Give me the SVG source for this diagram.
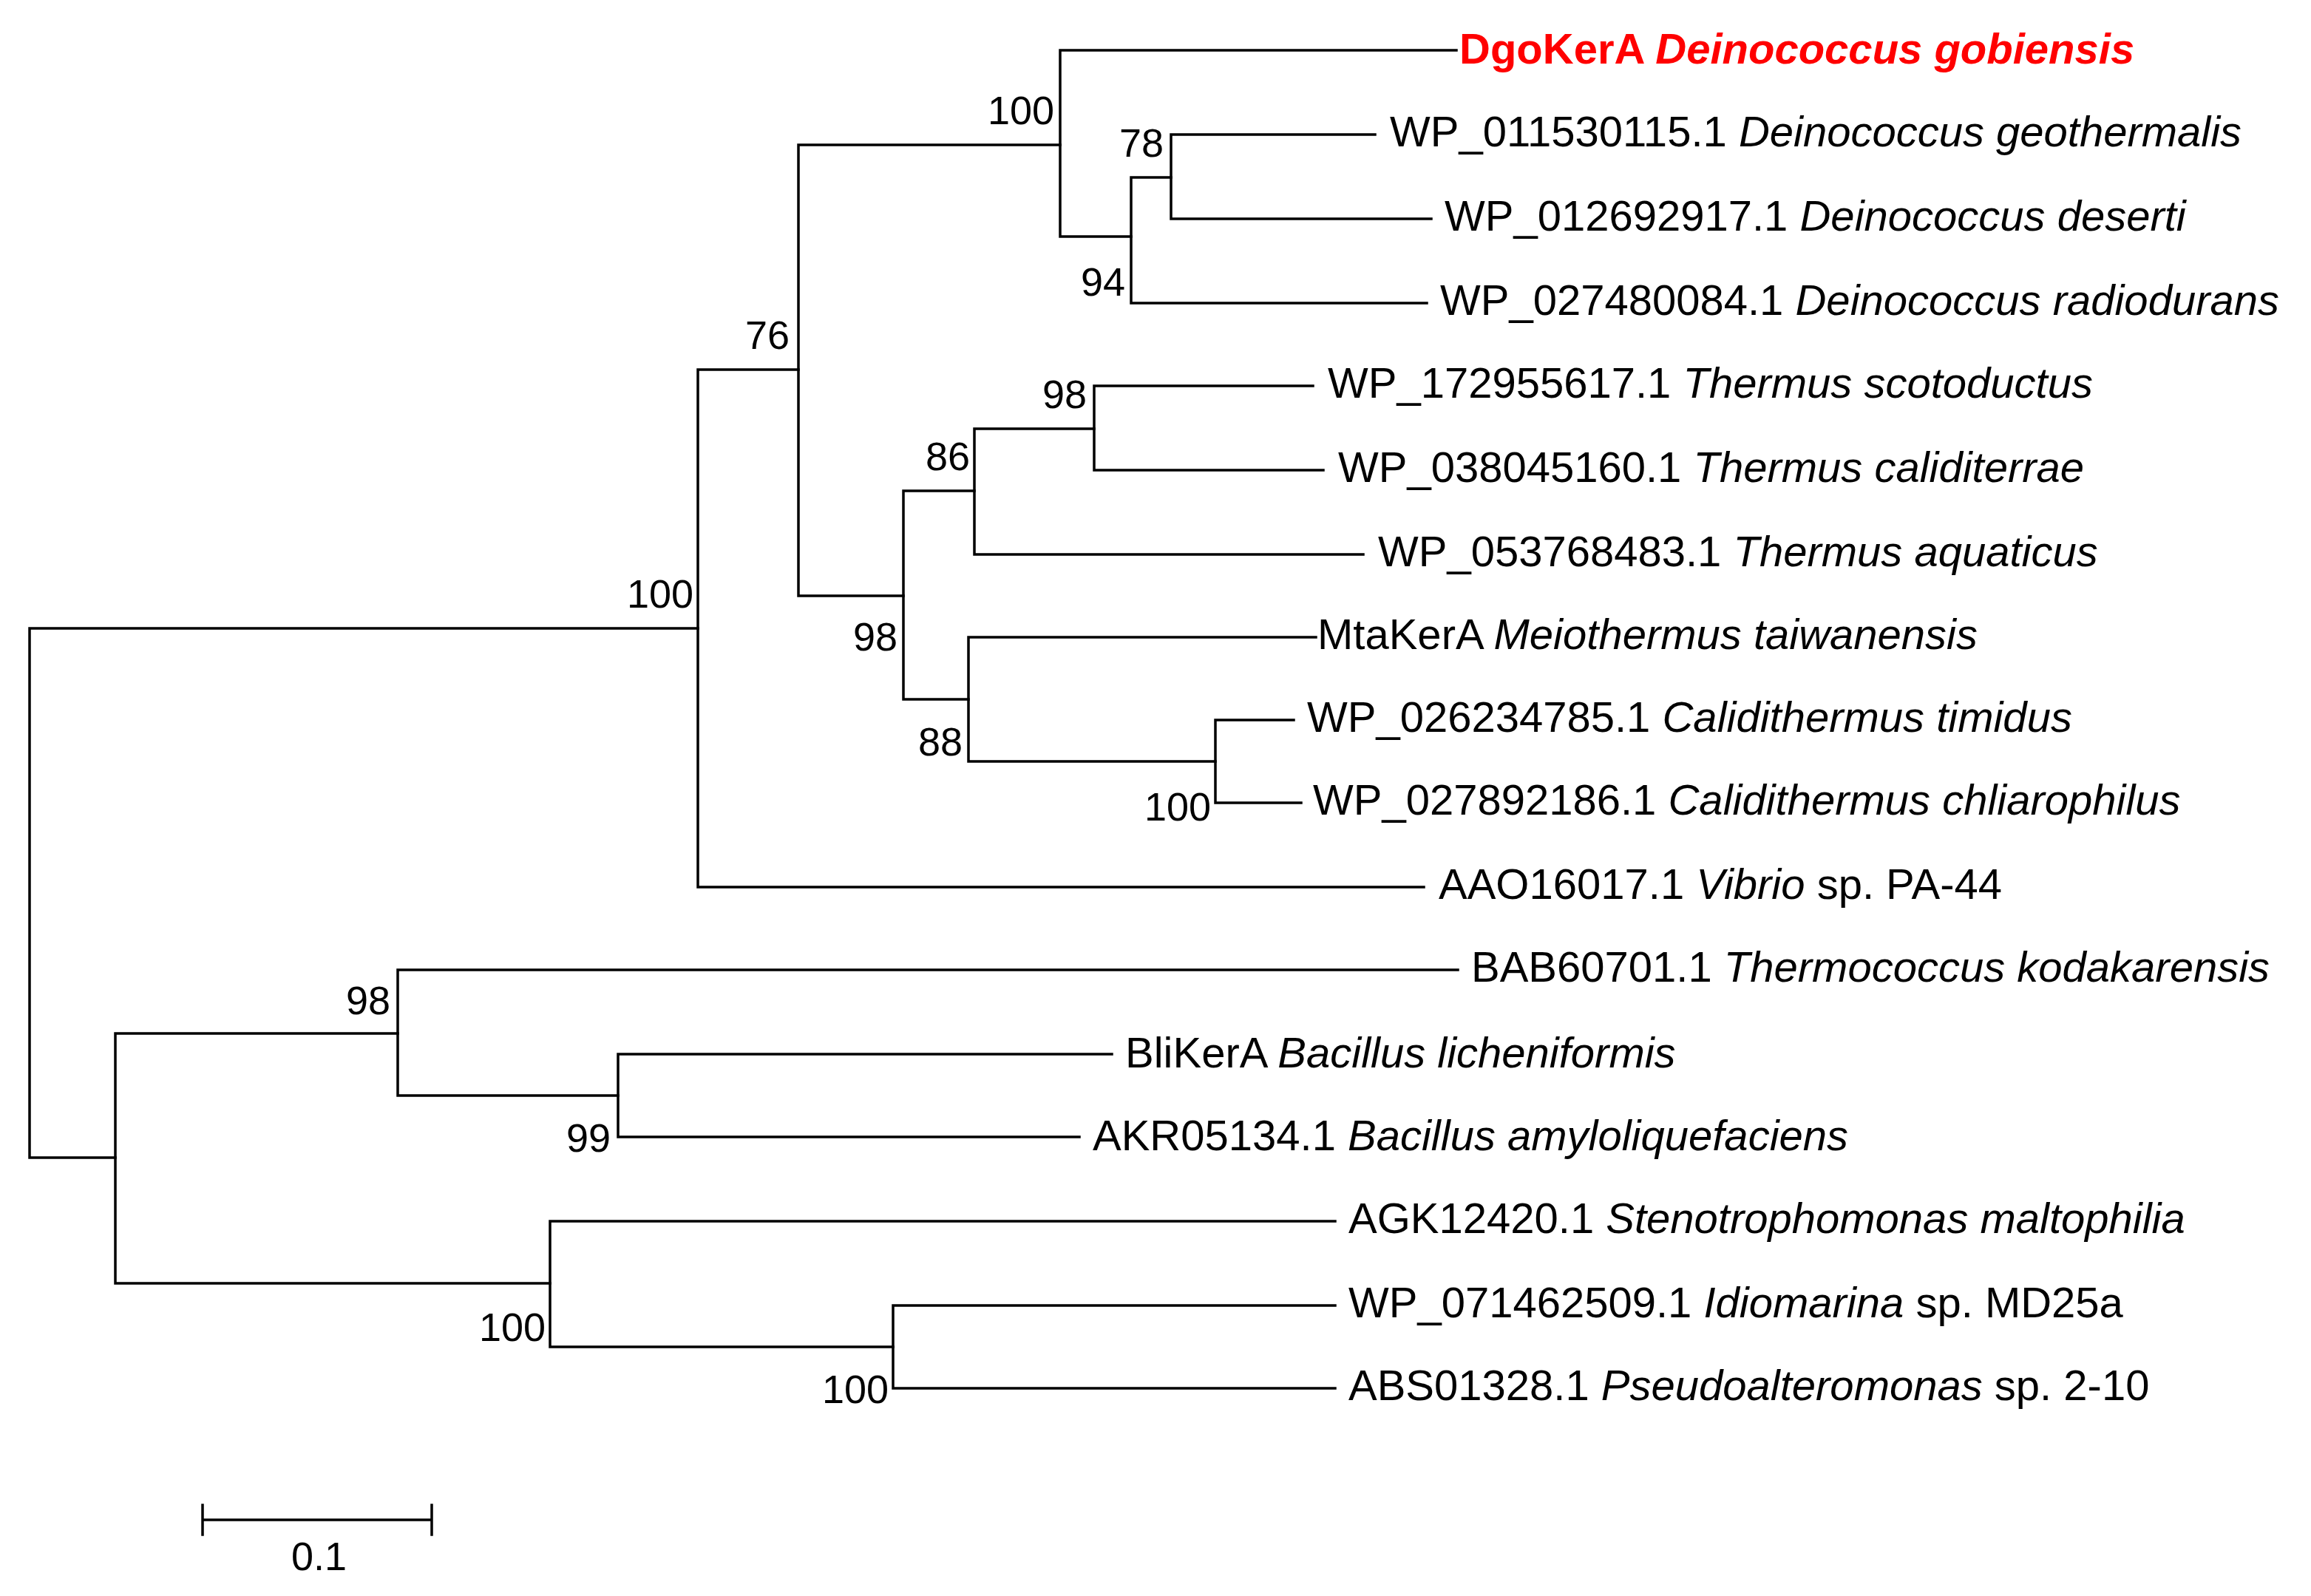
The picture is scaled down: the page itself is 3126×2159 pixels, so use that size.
<svg xmlns="http://www.w3.org/2000/svg" width="3126" height="2159" viewBox="0 0 3126 2159">
<style>
.l{stroke:#000;stroke-width:3.5;fill:none;stroke-linecap:square}
text{font-family:"Liberation Sans",Arial,sans-serif;font-size:54px;fill:#000}
#leaves text{font-size:58px}
.b{text-anchor:end}
</style>
<rect width="3126" height="2159" fill="#fff"/>
<g id="connectors" class="l">
<path d="M40 850V1566M40 850H944M40 1566H156"/>
<path d="M944 500V1200M944 500H1080M944 1200H1926"/>
<path d="M1080 196V806M1080 196H1434M1080 806H1222"/>
<path d="M1434 68V320M1434 68H1970M1434 320H1530"/>
<path d="M1530 240V410M1530 240H1584M1530 410H1930"/>
<path d="M1584 182V296M1584 182H1860M1584 296H1936"/>
<path d="M1222 664V946M1222 664H1318M1222 946H1310"/>
<path d="M1318 580V750M1318 580H1480M1318 750H1844"/>
<path d="M1480 522V636M1480 522H1776M1480 636H1790"/>
<path d="M1310 862V1030M1310 862H1780M1310 1030H1644"/>
<path d="M1644 974V1086M1644 974H1750M1644 1086H1760"/>
<path d="M156 1398V1736M156 1398H538M156 1736H744"/>
<path d="M538 1312V1482M538 1312H1972M538 1482H836"/>
<path d="M836 1426V1538M836 1426H1504M836 1538H1460"/>
<path d="M744 1652V1822M744 1652H1806M744 1822H1208"/>
<path d="M1208 1766V1878M1208 1766H1806M1208 1878H1806"/>
<path d="M274 2056H584M274 2036V2076M584 2036V2076"/>
</g>
<g id="bootstrap">
<text class="b" x="1426" y="168">100</text>
<text class="b" x="1574" y="212">78</text>
<text class="b" x="1522" y="400">94</text>
<text class="b" x="1068" y="472">76</text>
<text class="b" x="1470" y="552">98</text>
<text class="b" x="1312" y="636">86</text>
<text class="b" x="938" y="822">100</text>
<text class="b" x="1214" y="880">98</text>
<text class="b" x="1302" y="1022">88</text>
<text class="b" x="1638" y="1110">100</text>
<text class="b" x="528" y="1372">98</text>
<text class="b" x="826" y="1558">99</text>
<text class="b" x="738" y="1814">100</text>
<text class="b" x="1202" y="1898">100</text>
<text x="394" y="2124">0.1</text>
</g>
<g id="leaves">
<text x="1974" y="86" style="fill:#f00;font-weight:bold">DgoKerA <tspan font-style="italic">Deinococcus gobiensis</tspan></text>
<text x="1880" y="198">WP_011530115.1 <tspan font-style="italic">Deinococcus geothermalis</tspan></text>
<text x="1954" y="312">WP_012692917.1 <tspan font-style="italic">Deinococcus deserti</tspan></text>
<text x="1948" y="426">WP_027480084.1 <tspan font-style="italic">Deinococcus radiodurans</tspan></text>
<text x="1796" y="538">WP_172955617.1 <tspan font-style="italic">Thermus scotoductus</tspan></text>
<text x="1810" y="652">WP_038045160.1 <tspan font-style="italic">Thermus caliditerrae</tspan></text>
<text x="1864" y="766">WP_053768483.1 <tspan font-style="italic">Thermus aquaticus</tspan></text>
<text x="1782" y="878">MtaKerA <tspan font-style="italic">Meiothermus taiwanensis</tspan></text>
<text x="1768" y="990">WP_026234785.1 <tspan font-style="italic">Calidithermus timidus</tspan></text>
<text x="1776" y="1102">WP_027892186.1 <tspan font-style="italic">Calidithermus chliarophilus</tspan></text>
<text x="1946" y="1216">AAO16017.1 <tspan font-style="italic">Vibrio</tspan> sp. PA-44</text>
<text x="1990" y="1328">BAB60701.1 <tspan font-style="italic">Thermococcus kodakarensis</tspan></text>
<text x="1522" y="1444">BliKerA <tspan font-style="italic">Bacillus licheniformis</tspan></text>
<text x="1478" y="1556">AKR05134.1 <tspan font-style="italic">Bacillus amyloliquefaciens</tspan></text>
<text x="1824" y="1668">AGK12420.1 <tspan font-style="italic">Stenotrophomonas maltophilia</tspan></text>
<text x="1824" y="1782">WP_071462509.1 <tspan font-style="italic">Idiomarina</tspan> sp. MD25a</text>
<text x="1824" y="1894">ABS01328.1 <tspan font-style="italic">Pseudoalteromonas</tspan> sp. 2-10</text>
</g>
</svg>
